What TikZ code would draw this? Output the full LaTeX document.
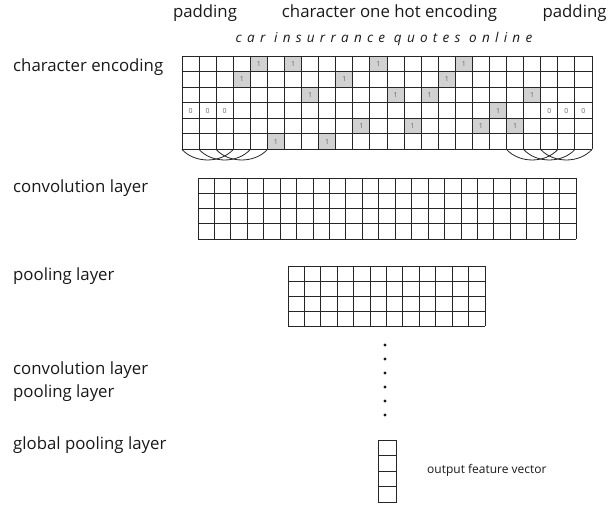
\documentclass[tikz,border=0pt]{standalone}
\usepackage{fontspec}
\setmainfont{Open Sans}
\begin{document}
\begin{tikzpicture}[x=1pt,y=-1pt,
  gridline/.style={line width=0.9pt, draw=black!85},
  onecell/.style={fill=black!18},
  celltext/.style={inner sep=0pt, font=\fontsize{7}{7}\selectfont, text=black!60},
  lbl/.style={anchor=base west, inner sep=0pt, font=\fontsize{16.8}{16.8}\selectfont, text=black!90},
  toplbl/.style={anchor=base, inner sep=0pt, font=\fontsize{16.8}{16.8}\selectfont, text=black!90},
  arcline/.style={line width=0.8pt, draw=black!85},
  dotmark/.style={fill=black!90}]
\useasboundingbox (0,0) rectangle (609,505);

% ---------- top labels ----------
\node[toplbl] (padl) at (205,18) {padding};
\node[toplbl] (onehot) at (389.5,18) {character one hot encoding};
\node[toplbl] (padr) at (574.5,18) {padding};
\node[anchor=base, inner sep=0pt, text=black!90,
      font=\fontsize{13.5}{13.5}\selectfont\itshape\addfontfeatures{LetterSpace=39}] (query) at (384,43) {car insurrance quotes online};

% ---------- left labels ----------
\node[lbl] (lcenc) at (13,72) {character encoding};
\node[lbl] (lconv) at (13,192) {convolution layer};
\node[lbl] (lpool) at (13,280) {pooling layer};
\node[lbl] (lconvb) at (13,374) {convolution layer};
\node[lbl] (lpoolb) at (13,397) {pooling layer};
\node[lbl] (lglob) at (13,449) {global pooling layer};

% ---------- character encoding grid ----------
\def\cx{182}\def\cy{56}\def\cw{17.083}\def\ch{15.58}
\foreach \c/\r in {3/2,4/1,5/6,6/1,7/3,8/6,9/2,10/5,11/1,12/3,13/5,14/3,15/2,16/1,17/5,18/4,19/5,20/3} {
  \fill[onecell] (\cx+\c*\cw, \cy+\r*\ch-\ch) rectangle (\cx+\c*\cw+\cw, \cy+\r*\ch);
  \node[celltext] (one\c) at (\cx+\c*\cw+0.5*\cw, \cy+\r*\ch-0.5*\ch) {1};
}
\foreach \c in {0,1,2,21,22,23} {
  \node[celltext] (zero\c) at (\cx+\c*\cw+0.5*\cw, \cy+3.5*\ch) {0};
}
\foreach \i in {0,...,24} \draw[gridline] (\cx+\i*\cw,\cy) -- (\cx+\i*\cw,\cy+6*\ch);
\foreach \j in {0,...,6} \draw[gridline] (\cx,\cy+\j*\ch) -- (\cx+24*\cw,\cy+\j*\ch);

% arcs under padding
\foreach \i in {0,1,2,19,20,21} {
  \draw[arcline] (\cx+\i*\cw, \cy+6*\ch) .. controls (\cx+\i*\cw+0.75*\cw, \cy+6*\ch+14) and (\cx+\i*\cw+2.25*\cw, \cy+6*\ch+14) .. (\cx+\i*\cw+3*\cw, \cy+6*\ch);
}

% ---------- convolution layer ----------
\def\vx{198}\def\vy{178}\def\vw{16.435}\def\vh{15.25}
\foreach \i in {0,...,23} \draw[gridline] (\vx+\i*\vw,\vy) -- (\vx+\i*\vw,\vy+4*\vh);
\foreach \j in {0,...,4} \draw[gridline] (\vx,\vy+\j*\vh) -- (\vx+23*\vw,\vy+\j*\vh);

% ---------- pooling layer ----------
\def\px{288}\def\py{266}\def\pw{16.417}\def\ph{15}
\foreach \i in {0,...,12} \draw[gridline] (\px+\i*\pw,\py) -- (\px+\i*\pw,\py+4*\ph);
\foreach \j in {0,...,4} \draw[gridline] (\px,\py+\j*\ph) -- (\px+12*\pw,\py+\j*\ph);

% ---------- dots ----------
\foreach \k in {0,...,5} \fill[dotmark] (385,345+14*\k) circle (1.7);

% ---------- output vector ----------
\foreach \j in {0,...,3} \draw[gridline] (378,440+15.5*\j) rectangle (396,440+15.5*\j+15.5);
\node[anchor=base west, inner sep=0pt, font=\fontsize{12}{12}\selectfont, text=black!90] (outlbl) at (427,473) {output feature vector};
\end{tikzpicture}
\end{document}
